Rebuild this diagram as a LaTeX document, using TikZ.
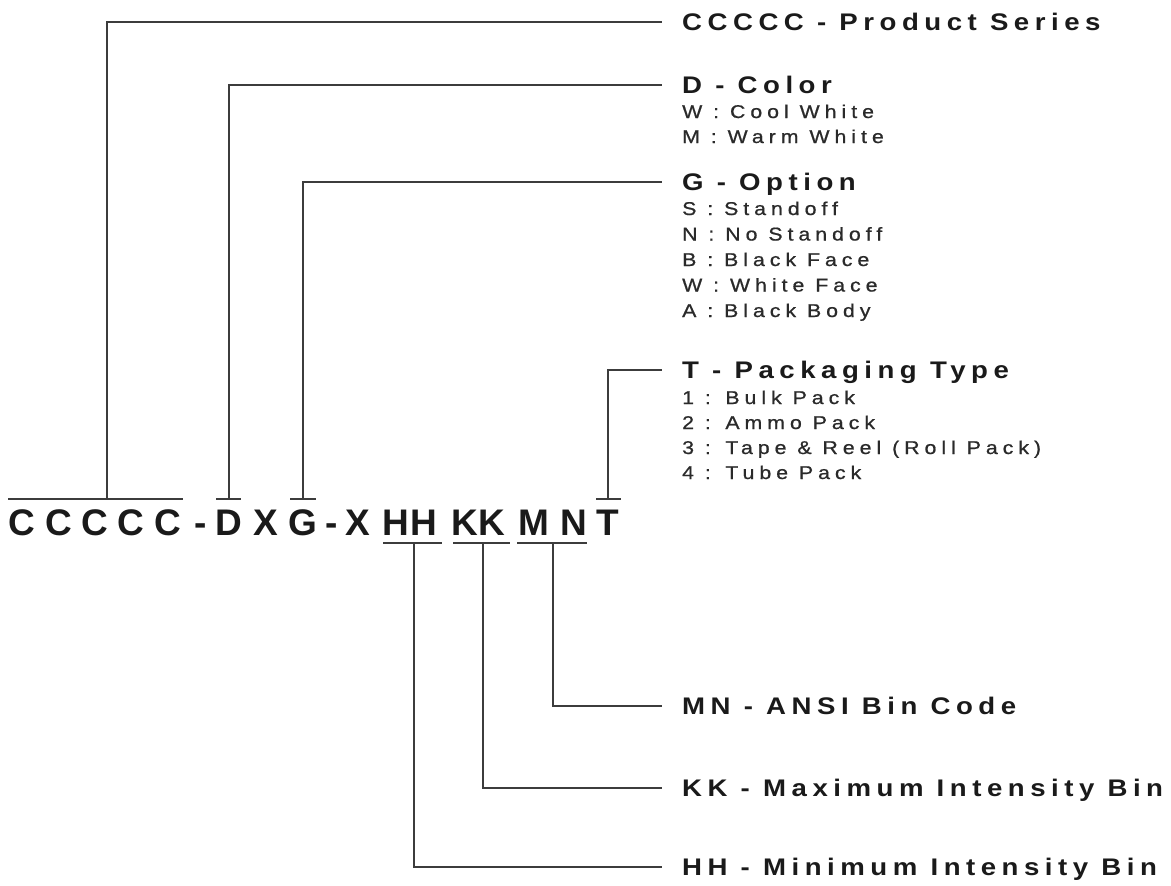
\documentclass[tikz,border=0pt]{standalone}
\usepackage{fontspec}
\setmainfont{Liberation Sans}
\newfontfamily\headfont[LetterSpace=23,FakeStretch=1.15]{Liberation Sans}
\newfontfamily\subfont[LetterSpace=27,FakeStretch=1.15,FakeBold=0.8]{Liberation Sans}
\definecolor{ink}{HTML}{1A1A1A}
\definecolor{subink}{HTML}{2A2A2A}
\definecolor{wirecol}{HTML}{3C3C3C}
\begin{document}
\begin{tikzpicture}[x=1pt,y=-1pt,
  partchar/.style={font=\bfseries\fontsize{37}{37}\selectfont, text=ink, anchor=base, inner sep=0pt},
  headlab/.style={font=\headfont\bfseries\fontsize{24}{24}\selectfont, text=ink, anchor=west, inner xsep=20pt, inner ysep=0pt, text height=17.2pt, text depth=0pt},
  sublab/.style={font=\subfont\fontsize{18.5}{18.5}\selectfont, text=subink, anchor=base west, inner sep=0pt},
  wire/.style={draw=wirecol, line width=2pt}]
\useasboundingbox[fill=white] (0,0) rectangle (1171,886);

% part number characters
\node[partchar] (c1) at (22,535) {C};
\node[partchar] (c2) at (59,535) {C};
\node[partchar] (c3) at (95,535) {C};
\node[partchar] (c4) at (131,535) {C};
\node[partchar] (c5) at (168,535) {C};
\node[partchar] (dash1) at (201,535) {-};
\node[partchar] (pd) at (229,535) {D};
\node[partchar] (px1) at (266,535) {X};
\node[partchar] (pg) at (303,535) {G};
\node[partchar] (dash2) at (332,535) {-};
\node[partchar] (px2) at (358,535) {X};
\node[partchar] (ph1) at (396,535) {H};
\node[partchar] (ph2) at (424,535) {H};
\node[partchar] (pk1) at (465,535) {K};
\node[partchar] (pk2) at (492,535) {K};
\node[partchar] (pm) at (534,535) {M};
\node[partchar] (pn) at (574,535) {N};
\node[partchar] (pt) at (608,535) {T};

% labels
\node[headlab] (psl) at (662,22) {CCCCC - Product Series};
\node[headlab] (col) at (662,85) {D - Color};
\node[sublab] (col1) at (682,118) {W : Cool White};
\node[sublab] (col2) at (682,143) {M : Warm White};
\node[headlab] (opt) at (662,182) {G - Option};
\node[sublab] (opt1) at (682,215) {S : Standoff};
\node[sublab] (opt2) at (682,240.5) {N : No Standoff};
\node[sublab] (opt3) at (682,266) {B : Black Face};
\node[sublab] (opt4) at (682,291.5) {W : White Face};
\node[sublab] (opt5) at (682,317) {A : Black Body};
\node[headlab] (pkg) at (662,370) {T - Packaging Type};
\node[sublab] (pkg1) at (682,404) {1 : Bulk Pack};
\node[sublab] (pkg2) at (682,429) {2 : Ammo Pack};
\node[sublab] (pkg3) at (682,454) {3 : Tape \& Reel (Roll Pack)};
\node[sublab] (pkg4) at (682,479) {4 : Tube Pack};
\node[headlab] (mnl) at (662,706) {MN - ANSI Bin Code};
\node[headlab] (kkl) at (662,788) {KK - Maximum Intensity Bin};
\node[headlab] (hhl) at (662,867) {HH - Minimum Intensity Bin};

% over/under bars
\coordinate (barC) at (107,499);
\coordinate (barD) at (229,499);
\coordinate (barG) at (303,499);
\coordinate (barT) at (608,499);
\coordinate (barH) at (414,543);
\coordinate (barK) at (483,543);
\coordinate (barM) at (553,543);
\draw[wire] (8,499) -- (183,499);
\draw[wire] (216,499) -- (241,499);
\draw[wire] (290,499) -- (316,499);
\draw[wire] (596,499) -- (621,499);
\draw[wire] (383,543) -- (442,543);
\draw[wire] (453,543) -- (510,543);
\draw[wire] (517,543) -- (587,543);

% connectors
\draw[wire] (barC) |- (psl.west);
\draw[wire] (barD) |- (col.west);
\draw[wire] (barG) |- (opt.west);
\draw[wire] (barT) |- (pkg.west);
\draw[wire] (barM) |- (mnl.west);
\draw[wire] (barK) |- (kkl.west);
\draw[wire] (barH) |- (hhl.west);
\end{tikzpicture}
\end{document}
